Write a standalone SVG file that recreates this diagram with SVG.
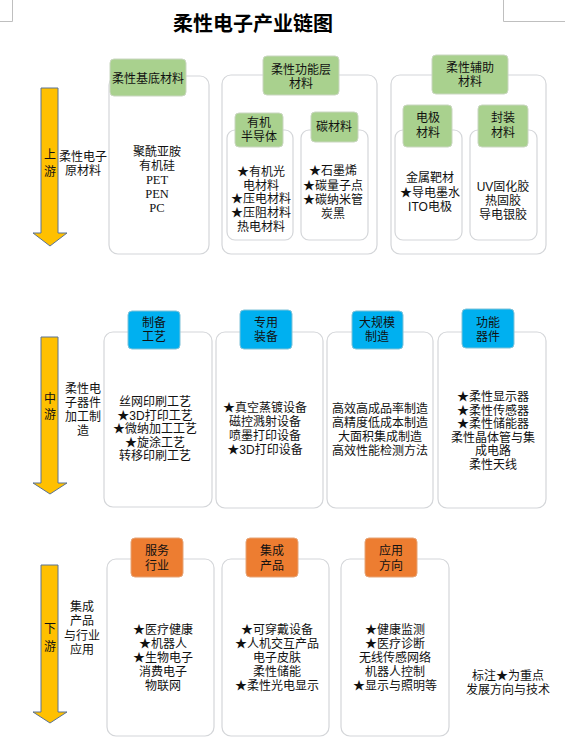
<svg xmlns="http://www.w3.org/2000/svg" width="565" height="748" viewBox="0 0 565 748">
<style>
text{font-family:"Liberation Sans","Noto Sans CJK SC",sans-serif;font-size:12px;fill:#111;text-anchor:middle;dominant-baseline:central}
.title{font-size:20px;font-weight:bold;fill:#000}
.box{fill:#fff;stroke:#d4d6d9;stroke-width:1.2}
.g{fill:#a9d18e;stroke:#c9d6c0;stroke-width:1}
.b{fill:#00b0f0;stroke:#7fc2d8;stroke-width:1}
.o{fill:#ed7d31;stroke:#e6a477;stroke-width:1}
.arrow{fill:#ffc000;stroke:#5a7394;stroke-width:1}
.corner{stroke:#bfbfbf;stroke-width:1;fill:none}
.lat{font-family:"Liberation Serif","Noto Sans CJK SC",serif;font-size:12.5px}
</style>
<rect width="565" height="748" fill="#fff"/>
<path class="corner" d="M12.5 0V21.5H0M503.5 0V21.5H565"/>
<text class="title" x="253" y="24">柔性电子产业链图</text>

<g id="connectors">
<polygon class="arrow" points="41,88 58,88 58,233 67,233 50,246 33,233 41,233"/>
<polygon class="arrow" points="41,337 58,337 58,483 67,483 50,494 33,483 41,483"/>
<polygon class="arrow" points="41,565 58,565 58,712 67,712 50,723 33,712 41,712"/>
</g>

<g id="label-upstream"><text x="50" y="155">上</text><text x="50" y="172">游</text></g>
<g id="side-upstream"><text x="83" y="157">柔性电子</text><text x="83" y="171">原材料</text></g>

<g id="n-substrate">
<rect class="box" x="109" y="76" width="100" height="178" rx="9"/>
<rect class="g" x="110" y="59" width="76" height="37" rx="4"/>
<text x="148" y="79">柔性基底材料</text>
<text x="157" y="152">聚酰亚胺</text>
<text x="157" y="165.5">有机硅</text>
<text class="lat" x="157" y="179.5">PET</text>
<text class="lat" x="157" y="193.5">PEN</text>
<text class="lat" x="157" y="207.5">PC</text>
</g>

<g id="n-functional">
<rect class="box" x="222" y="75" width="155" height="179" rx="9"/>
<rect class="g" x="263" y="56" width="76" height="39" rx="4"/>
<text x="301" y="70">柔性功能层</text>
<text x="301" y="84">材料</text>
</g>
<g id="n-organic">
<rect class="box" x="227" y="130" width="66" height="110" rx="8"/>
<rect class="g" x="235" y="113" width="48" height="34" rx="4"/>
<text x="259" y="123">有机</text>
<text x="259" y="137">半导体</text>
<text x="261" y="172">★有机光</text>
<text x="261" y="185.5">电材料</text>
<text x="261" y="199">★压电材料</text>
<text x="261" y="213">★压阻材料</text>
<text x="261" y="226.5">热电材料</text>
</g>
<g id="n-carbon">
<rect class="box" x="301" y="130" width="67" height="110" rx="8"/>
<rect class="g" x="311" y="112" width="47" height="30" rx="4"/>
<text x="334" y="127">碳材料</text>
<text x="333" y="171">★石墨烯</text>
<text x="333" y="186">★碳量子点</text>
<text x="333" y="199.5">★碳纳米管</text>
<text x="333" y="213.5">炭黑</text>
</g>

<g id="n-auxiliary">
<rect class="box" x="391" y="75" width="155" height="179" rx="9"/>
<rect class="g" x="432" y="55" width="76" height="39" rx="4"/>
<text x="470" y="68">柔性辅助</text>
<text x="470" y="82">材料</text>
</g>
<g id="n-electrode">
<rect class="box" x="395" y="130" width="67" height="110" rx="8"/>
<rect class="g" x="403" y="105" width="49" height="42" rx="4"/>
<text x="428" y="118">电极</text>
<text x="428" y="133">材料</text>
<text x="430" y="178">金属靶材</text>
<text x="430" y="193">★导电墨水</text>
<text x="430" y="206.5">ITO电极</text>
</g>
<g id="n-package">
<rect class="box" x="470" y="130" width="67" height="110" rx="8"/>
<rect class="g" x="478" y="105" width="50" height="42" rx="4"/>
<text x="503" y="118">封装</text>
<text x="503" y="133">材料</text>
<text x="503" y="187">UV固化胶</text>
<text x="503" y="201">热固胶</text>
<text x="503" y="214.5">导电银胶</text>
</g>

<g id="label-midstream"><text x="50" y="399">中</text><text x="50" y="415">游</text></g>
<g id="side-midstream"><text x="83" y="389">柔性电</text><text x="83" y="403">子器件</text><text x="83" y="417">加工制</text><text x="83" y="431">造</text></g>

<g id="n-process">
<rect class="box" x="104" y="332" width="108" height="175" rx="9"/>
<rect class="b" x="128" y="311" width="52" height="38" rx="4"/>
<text x="154" y="323">制备</text>
<text x="154" y="337">工艺</text>
<text x="155" y="402">丝网印刷工艺</text>
<text x="155" y="415.5">★3D打印工艺</text>
<text x="155" y="429">★微纳加工工艺</text>
<text x="155" y="442.5">★旋涂工艺</text>
<text x="155" y="456">转移印刷工艺</text>
</g>
<g id="n-equipment">
<rect class="box" x="216" y="332" width="107" height="176" rx="9"/>
<rect class="b" x="240" y="310" width="52" height="39" rx="4"/>
<text x="266" y="323">专用</text>
<text x="266" y="337">装备</text>
<text x="265" y="408">★真空蒸镀设备</text>
<text x="265" y="422">磁控溅射设备</text>
<text x="265" y="436">喷墨打印设备</text>
<text x="265" y="450">★3D打印设备</text>
</g>
<g id="n-mass">
<rect class="box" x="327" y="332" width="106" height="176" rx="9"/>
<rect class="b" x="352" y="311" width="51" height="38" rx="4"/>
<text x="377" y="323">大规模</text>
<text x="377" y="337">制造</text>
<text x="380" y="409">高效高成品率制造</text>
<text x="380" y="423">高精度低成本制造</text>
<text x="380" y="437">大面积集成制造</text>
<text x="380" y="451">高效性能检测方法</text>
</g>
<g id="n-device">
<rect class="box" x="438" y="332" width="108" height="176" rx="9"/>
<rect class="b" x="462" y="309" width="52" height="39" rx="4"/>
<text x="488" y="323">功能</text>
<text x="488" y="337">器件</text>
<text x="493" y="397">★柔性显示器</text>
<text x="493" y="410.5">★柔性传感器</text>
<text x="493" y="424">★柔性储能器</text>
<text x="493" y="437.5">柔性晶体管与集</text>
<text x="493" y="451">成电路</text>
<text x="493" y="464.5">柔性天线</text>
</g>

<g id="label-downstream"><text x="50" y="629">下</text><text x="50" y="647">游</text></g>
<g id="side-downstream"><text x="82" y="607">集成</text><text x="82" y="621">产品</text><text x="82" y="636">与行业</text><text x="82" y="650">应用</text></g>

<g id="n-service">
<rect class="box" x="107" y="559" width="107" height="177" rx="9"/>
<rect class="o" x="131" y="538" width="52" height="39" rx="4"/>
<text x="157" y="551">服务</text>
<text x="157" y="566">行业</text>
<text x="163" y="630">★医疗健康</text>
<text x="163" y="644">★机器人</text>
<text x="163" y="658">★生物电子</text>
<text x="163" y="672">消费电子</text>
<text x="163" y="686">物联网</text>
</g>
<g id="n-product">
<rect class="box" x="222" y="559" width="107" height="177" rx="9"/>
<rect class="o" x="246" y="538" width="52" height="39" rx="4"/>
<text x="272" y="551">集成</text>
<text x="272" y="566">产品</text>
<text x="277" y="630">★可穿戴设备</text>
<text x="277" y="644">★人机交互产品</text>
<text x="277" y="658">电子皮肤</text>
<text x="277" y="672">柔性储能</text>
<text x="277" y="686">★柔性光电显示</text>
</g>
<g id="n-application">
<rect class="box" x="341" y="559" width="108" height="177" rx="9"/>
<rect class="o" x="365" y="538" width="52" height="39" rx="4"/>
<text x="391" y="551">应用</text>
<text x="391" y="566">方向</text>
<text x="395" y="630">★健康监测</text>
<text x="395" y="644">★医疗诊断</text>
<text x="395" y="658">无线传感网络</text>
<text x="395" y="672">机器人控制</text>
<text x="395" y="686">★显示与照明等</text>
</g>

<g id="note">
<text x="508" y="676">标注★为重点</text>
<text x="508" y="690">发展方向与技术</text>
</g>
</svg>
